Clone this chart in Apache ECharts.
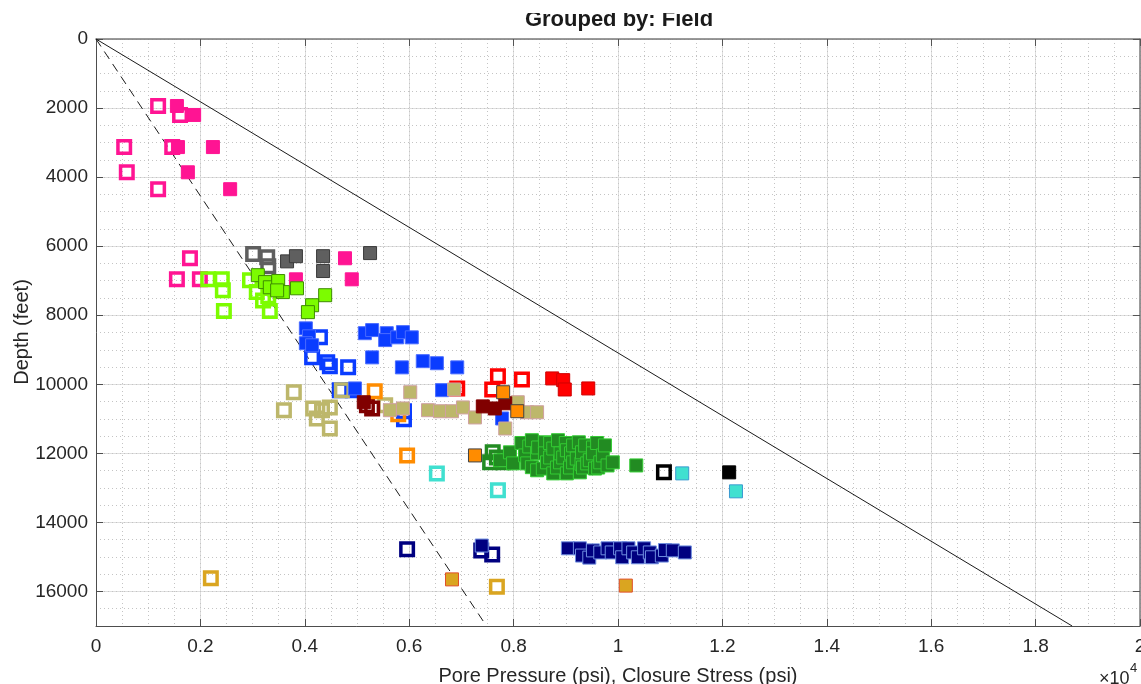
<!DOCTYPE html>
<html>
<head>
<meta charset="utf-8">
<script src="https://cdn.jsdelivr.net/npm/echarts@6/dist/echarts.min.js"></script>
<style>
  html, body { margin: 0; padding: 0; background: #fff; }
  #chart { width: 1141px; height: 684px; }
</style>
</head>
<body>
<div id="chart"></div>
<script>
// Observations per field as [pressure psi, depth ft].
// "_pore" = pore pressure (open squares), "_closure" = closure stress (filled squares).
const fieldA_pore = [[1190,1940],[1610,2200],[540,3130],[1460,3130],[590,3860],[1190,4350],[1800,6350],[1550,6960],[1990,6960]];
const fieldA_closure = [[1550,1940],[1880,2200],[1570,3130],[2240,3130],[1760,3860],[2570,4350],[4770,6350],[3830,6960],[4900,6960]];

const fieldB_pore = [[3010,6230],[3280,6320],[3300,6580]];
const fieldB_closure = [[3660,6440],[3830,6290],[4350,6290],[4350,6720],[5250,6200]];

const fieldC_pore = [[2150,6960],[2410,6960],[2430,7280],[2450,7880],[2950,6990],[3080,7330],[3200,7570],[3330,7880],[3300,7450]];
const fieldC_closure = [[3100,6840],[3240,7040],[3330,7190],[3490,7010],[3580,7330],[3470,7280],[3850,7220],[4390,7420],[4140,7710],[4060,7910]];

const fieldD_pore = [[4290,8640],[4140,9220],[4430,9360],[4480,9480],[4830,9510],[4670,10170],[4920,10170],[5900,11010],[5900,10780]];
const fieldD_closure = [[4020,8380],[4080,8610],[4020,8810],[4140,8870],[5150,8520],[5290,8430],[5570,8520],[5540,8720],[5770,8640],[5880,8490],[6050,8640],[5290,9220],[5860,9510],[6260,9330],[6530,9390],[6920,9510],[6630,10170],[4960,10120],[7780,10990]];

const fieldE_pore = [[3790,10230],[3600,10750],[4160,10700],[4330,10750],[4480,10670],[4230,10990],[4480,11280],[4710,10170],[5540,10610]];
const fieldE_closure = [[6020,10230],[5630,10750],[5880,10700],[6360,10750],[6590,10780],[6820,10780],[7030,10670],[7260,10960],[6860,10150],[7840,11280],[8080,10520],[8260,10810],[8450,10810]];

const fieldF_pore = [[5190,10610],[5290,10700]];
const fieldF_closure = [[5130,10520],[7410,10640],[7640,10700],[7840,10550]];

const fieldG_pore = [[5340,10200],[5960,12060],[5790,10870]];
const fieldG_closure = [[7800,10230],[8070,10780],[7260,12060]];

const fieldH_pore = [[7700,9770],[8160,9860],[7590,10150],[6920,10120]];
const fieldH_closure = [[8740,9830],[8950,9880],[8980,10150],[9430,10120]];

const fieldI_pore = [[7600,11970],[7550,12260],[7800,12260],[7680,12120]];
const fieldI_closure = [[7740,12200],[7930,11970],[7990,12290],[8150,11700],[8220,12060],[8260,12290],[8300,11800],[8350,11620],[8350,12400],
  [8450,12000],[8450,12490],[8470,11830],[8560,12440],[8600,11680],[8600,12000],[8640,12260],[8700,11700],[8700,12120],[8760,11860],
  [8760,12580],[8830,12410],[8850,11620],[8890,12260],[8900,12000],[8950,12120],[9000,11700],[9020,11910],[9020,12580],[9080,12410],
  [9100,12000],[9140,11770],[9140,12260],[9210,12150],[9250,11680],[9270,12550],[9300,12300],[9310,11970],[9330,12410],[9370,11770],
  [9410,12290],[9460,12200],[9520,11830],[9520,12000],[9560,12440],[9600,11700],[9620,12410],[9660,12260],[9710,12060],[9750,11770],
  [9800,12350],[9900,12260],[10350,12350]];

const fieldJ_pore = [[6530,12580],[7700,13070]];
const fieldJ_closure = [[11230,12580],[12260,13100]];

const fieldK_pore = [[10880,12550]];
const fieldK_closure = [[12130,12550]];

const fieldL_pore = [[5960,14780],[7380,14810],[7590,14930]];
const fieldL_closure = [[7390,14670],[9040,14750],[9270,14750],[9310,14960],[9450,15020],[9520,14810],[9660,14870],[9800,14750],[9880,14870],
  [10040,14750],[10080,15010],[10200,14750],[10290,14870],[10380,15010],[10500,14750],[10610,14870],[10650,15010],[10840,14960],
  [10900,14800],[11050,14810],[11280,14870]];

const fieldM_pore = [[2200,15620],[7680,15860]];
const fieldM_closure = [[6820,15650],[10150,15830]];

// Reference gradients (psi/ft) drawn from the surface
const gradients = [1.1, 0.44];
const gradientStyles = ['solid', 'dashed'];
const depthRange = [0, 17000];

// Axis ranges and tick spacing
const xRange = [0, 20000];
const xMajor = 2000;
const yMajor = 2000;
const minorStep = 500;

const fields = [
  { name: 'Field A', pore: fieldA_pore, closure: fieldA_closure, color: '#ff1493', edge: '#ff1493' },
  { name: 'Field B', pore: fieldB_pore, closure: fieldB_closure, color: '#5f5f5f', edge: '#3a3a3a' },
  { name: 'Field C', pore: fieldC_pore, closure: fieldC_closure, color: '#7cfc00', edge: '#3d8b00' },
  { name: 'Field D', pore: fieldD_pore, closure: fieldD_closure, color: '#0a3cff', edge: '#4a6cff' },
  { name: 'Field E', pore: fieldE_pore, closure: fieldE_closure, color: '#bdb76b', edge: '#cfa0a0' },
  { name: 'Field F', pore: fieldF_pore, closure: fieldF_closure, color: '#800000', edge: '#800000' },
  { name: 'Field G', pore: fieldG_pore, closure: fieldG_closure, color: '#ff8c00', edge: '#404040' },
  { name: 'Field H', pore: fieldH_pore, closure: fieldH_closure, color: '#ff0000', edge: '#d00000' },
  { name: 'Field I', pore: fieldI_pore, closure: fieldI_closure, color: '#228b22', edge: '#33cc33' },
  { name: 'Field J', pore: fieldJ_pore, closure: fieldJ_closure, color: '#40e0d0', edge: '#3a9ad0' },
  { name: 'Field K', pore: fieldK_pore, closure: fieldK_closure, color: '#000000', edge: '#000000' },
  { name: 'Field L', pore: fieldL_pore, closure: fieldL_closure, color: '#000080', edge: '#6f8fe0' },
  { name: 'Field M', pore: fieldM_pore, closure: fieldM_closure, color: '#daa520', edge: '#e0502a' }
];

const FONT = '"Liberation Sans", Arial, Helvetica, sans-serif';
const TEXT = '#262626';
const AXIS = '#4d4d4d';

const series = [];

// Gradient reference lines (under the markers)
gradients.forEach((g, i) => {
  series.push({
    type: 'line',
    xAxisIndex: 0, yAxisIndex: 0,
    data: depthRange.map(d => [g * d, d]),
    showSymbol: false,
    symbol: 'none',
    silent: true,
    z: 1,
    lineStyle: { color: '#1a1a1a', width: 1, type: gradientStyles[i] === 'dashed' ? [9, 6] : 'solid' }
  });
});

// Pore pressure: open squares
fields.forEach(f => {
  series.push({
    name: f.name + ' pore',
    type: 'scatter',
    xAxisIndex: 0, yAxisIndex: 0,
    data: f.pore,
    symbol: 'rect',
    symbolSize: 12.5,
    silent: true,
    z: 3,
    itemStyle: { color: 'rgba(255,255,255,0)', borderColor: f.color, borderWidth: 3.5, opacity: 1 }
  });
});

// Closure stress: filled squares
fields.forEach(f => {
  series.push({
    name: f.name + ' closure',
    type: 'scatter',
    xAxisIndex: 0, yAxisIndex: 0,
    data: f.closure,
    symbol: 'rect',
    symbolSize: 13,
    silent: true,
    z: 4,
    itemStyle: { color: f.color, borderColor: f.edge, borderWidth: 1, opacity: 1 }
  });
});

const xLabel = v => String(+(v / 10000).toFixed(1));

const option = {
  animation: false,
  backgroundColor: '#ffffff',
  grid: { left: 96, right: 1, top: 39, bottom: 58, containLabel: false, outerBoundsMode: 'none' },
  xAxis: [
    { // main bottom axis with labels and major grid
      type: 'value', position: 'bottom', min: xRange[0], max: xRange[1], interval: xMajor,
      axisLine: { show: true, onZero: false, lineStyle: { color: AXIS, width: 1 } },
      axisTick: { show: true, inside: true, length: 7, lineStyle: { color: AXIS } },
      axisLabel: { show: true, margin: 11, color: TEXT, fontFamily: FONT, fontSize: 19, formatter: xLabel,
        hideOverlap: false },
      splitLine: { show: true, lineStyle: { color: '#dedede', width: 1 } }
    },
    { // top box edge
      type: 'value', position: 'top', min: xRange[0], max: xRange[1], interval: xMajor,
      axisLine: { show: true, onZero: false, lineStyle: { color: '#7a7a7a', width: 1.5 } },
      axisTick: { show: true, inside: true, length: 7, lineStyle: { color: '#555' } },
      axisLabel: { show: false }, splitLine: { show: false }
    },
    { // minor dotted grid
      type: 'value', position: 'bottom', min: xRange[0], max: xRange[1], interval: minorStep,
      axisLine: { show: false, onZero: false }, axisTick: { show: false }, axisLabel: { show: false },
      splitLine: { show: true, lineStyle: { color: '#c4c4c4', width: 1, type: [1, 3] } }
    }
  ],
  yAxis: [
    { // main left axis, depth increasing downward
      type: 'value', position: 'left', inverse: true, min: depthRange[0], max: depthRange[1], interval: yMajor,
      axisLine: { show: true, onZero: false, lineStyle: { color: AXIS, width: 1 } },
      axisTick: { show: true, inside: true, length: 7, lineStyle: { color: AXIS } },
      axisLabel: { show: true, margin: 8, color: TEXT, fontFamily: FONT, fontSize: 19,
        formatter: v => (v % yMajor === 0 ? String(v) : '') },
      splitLine: { show: true, lineStyle: { color: '#dedede', width: 1 } }
    },
    { // right box edge
      type: 'value', position: 'right', inverse: true, min: depthRange[0], max: depthRange[1], interval: yMajor,
      axisLine: { show: true, onZero: false, lineStyle: { color: '#7a7a7a', width: 1.5 } },
      axisTick: { show: true, inside: true, length: 7, lineStyle: { color: '#555' } },
      axisLabel: { show: false }, splitLine: { show: false }
    },
    { // minor dotted grid
      type: 'value', position: 'left', inverse: true, min: depthRange[0], max: depthRange[1], interval: minorStep,
      axisLine: { show: false, onZero: false }, axisTick: { show: false }, axisLabel: { show: false },
      splitLine: { show: true, lineStyle: { color: '#c4c4c4', width: 1, type: [1, 3] } }
    }
  ],
  series: series,
  graphic: [
    { type: 'text', z: 10,
      style: { text: 'Grouped by: Field', x: 619, y: 19.5, textAlign: 'center', textVerticalAlign: 'middle',
        font: 'bold 22px ' + FONT, fill: '#1a1a1a' } },
    { type: 'rect', z: 11, shape: { x: 0, y: 0, width: 1141, height: 13 }, style: { fill: '#ffffff' } },
    { type: 'text', z: 10,
      style: { text: 'Pore Pressure (psi), Closure Stress (psi)', x: 618, y: 676, textAlign: 'center', textVerticalAlign: 'middle',
        font: '20px ' + FONT, fill: TEXT } },
    { type: 'text', z: 10, x: 22, y: 332, rotation: Math.PI / 2,
      style: { text: 'Depth (feet)', x: 0, y: 0, textAlign: 'center', textVerticalAlign: 'middle',
        font: '20px ' + FONT, fill: TEXT } },
    { type: 'text', z: 10,
      style: { text: '×10', x: 1099, y: 679, textAlign: 'left', textVerticalAlign: 'middle', font: '18px ' + FONT, fill: TEXT } },
    { type: 'text', z: 10,
      style: { text: '4', x: 1130, y: 668, textAlign: 'left', textVerticalAlign: 'middle', font: '13px ' + FONT, fill: TEXT } }
  ]
};

const chart = echarts.init(document.getElementById('chart'), null, { renderer: 'canvas' });
chart.setOption(option);
</script>
</body>
</html>
